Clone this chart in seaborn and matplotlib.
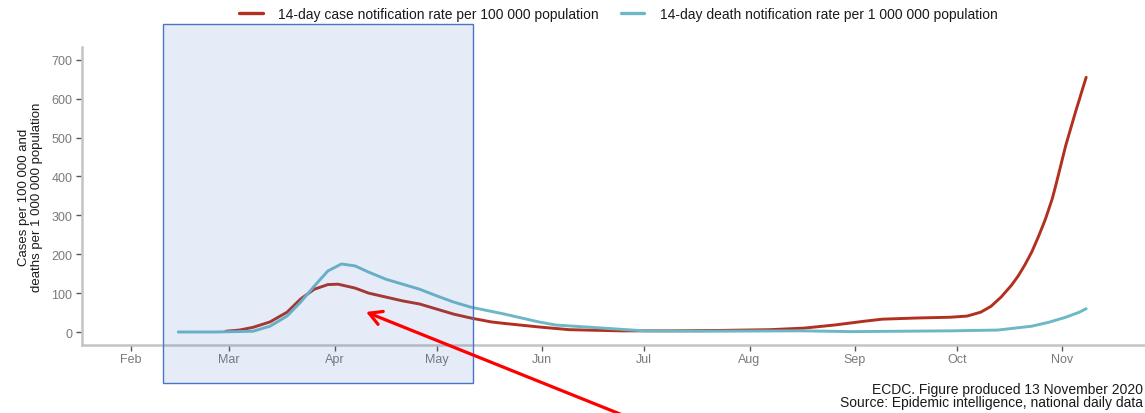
import matplotlib
matplotlib.use("Agg")
import matplotlib.pyplot as plt
import matplotlib.dates as mdates
import matplotlib.patches as mpatches
import pandas as pd
import seaborn as sns

# 14-day case notification rate per 100 000 population
case_dates = [
    "2020-02-29", "2020-03-04", "2020-03-08", "2020-03-13", "2020-03-18",
    "2020-03-22", "2020-03-26", "2020-03-30", "2020-04-02", "2020-04-07",
    "2020-04-11", "2020-04-16", "2020-04-21", "2020-04-26", "2020-05-01",
    "2020-05-06", "2020-05-11", "2020-05-17", "2020-05-21", "2020-05-31",
    "2020-06-09", "2020-06-24", "2020-07-09", "2020-07-23", "2020-08-07",
    "2020-08-17", "2020-08-26", "2020-09-04", "2020-09-09", "2020-09-19",
    "2020-09-29", "2020-10-04", "2020-10-08", "2020-10-11", "2020-10-14",
    "2020-10-17", "2020-10-19", "2020-10-21", "2020-10-23", "2020-10-25",
    "2020-10-27", "2020-10-29", "2020-10-30", "2020-10-31", "2020-11-01",
    "2020-11-02", "2020-11-03", "2020-11-04", "2020-11-05", "2020-11-06",
    "2020-11-07", "2020-11-08",
]
case_values = [
    2, 5, 12, 26, 51,
    85, 110, 122, 123, 113,
    100, 90, 80, 72, 59,
    46, 36, 26, 22, 13,
    6, 3, 3, 4, 6,
    10, 18, 28, 33, 36,
    38, 41, 51, 66, 90,
    120, 144, 173, 206, 246,
    290, 342, 375, 410, 445,
    480, 510, 540, 570, 598,
    627, 655,
]

# 14-day death notification rate per 1 000 000 population
death_dates = [
    "2020-02-15", "2020-02-26", "2020-03-08", "2020-03-13", "2020-03-18",
    "2020-03-22", "2020-03-26", "2020-03-30", "2020-04-03", "2020-04-07",
    "2020-04-11", "2020-04-16", "2020-04-21", "2020-04-26", "2020-05-01",
    "2020-05-06", "2020-05-11", "2020-05-21", "2020-05-31", "2020-06-05",
    "2020-06-19", "2020-07-01", "2020-07-17", "2020-08-16", "2020-08-31",
    "2020-09-29", "2020-10-13", "2020-10-23", "2020-10-28", "2020-11-02",
    "2020-11-06", "2020-11-08",
]
death_values = [
    0, 0, 2, 15, 41,
    77, 118, 157, 175, 170,
    154, 136, 123, 110, 93,
    77, 64, 46, 26, 18,
    10, 3, 2, 3, 1,
    3, 5, 15, 25, 38,
    51, 60,
]

series_labels = [
    "14-day case notification rate per 100 000 population",
    "14-day death notification rate per 1 000 000 population",
]
series_colors = ["#b2301f", "#6db8c7"]
month_ticks = ["2020-02-01", "2020-03-01", "2020-04-01", "2020-05-01", "2020-06-01",
               "2020-07-01", "2020-08-01", "2020-09-01", "2020-10-01", "2020-11-01"]
y_ticks = [0, 100, 200, 300, 400, 500, 600, 700]

df = pd.concat([
    pd.DataFrame({"date": pd.to_datetime(case_dates), "rate": case_values,
                  "series": series_labels[0]}),
    pd.DataFrame({"date": pd.to_datetime(death_dates), "rate": death_values,
                  "series": series_labels[1]}),
], ignore_index=True)

sns.set_theme(style="white")
plt.rcParams["font.family"] = ["Liberation Sans", "DejaVu Sans"]

W, H = 1145, 414
fig = plt.figure(figsize=(W / 100, H / 100), dpi=100)
ax_left, ax_bottom, ax_top = 82, 346, 48
ax = fig.add_axes([ax_left / W, (H - ax_bottom) / H,
                   (W - ax_left) / W, (ax_bottom - ax_top) / H])

sns.lineplot(data=df, x="date", y="rate", hue="series",
             palette=dict(zip(series_labels, series_colors)),
             linewidth=2.1, ax=ax, legend=False)

# date axis: Feb 1 sits 48.7 px right of the spine, 3.40 px per day
feb1 = pd.Timestamp("2020-02-01")
ax.set_xlim(feb1 - pd.Timedelta(days=14.3), feb1 + pd.Timedelta(days=298.3))
ax.set_ylim(-33.4, 733)
ax.set_xticks(pd.to_datetime(month_ticks))
ax.xaxis.set_major_formatter(mdates.DateFormatter("%b"))
ax.set_yticks(y_ticks)

ax.set_xlabel("")
ax.set_ylabel("Cases per 100 000 and\ndeaths per 1 000 000 population",
              fontsize=9.5, color="#1a1a1a", labelpad=6, linespacing=1.1)

for side in ("top", "right"):
    ax.spines[side].set_visible(False)
for side in ("left", "bottom"):
    ax.spines[side].set_color("#c4c4c4")
    ax.spines[side].set_linewidth(1.8)
ax.tick_params(axis="both", which="major", length=4, width=1,
               color="#555555", labelcolor="#7a7a7a", labelsize=9,
               direction="out", bottom=True, left=True)
ax.tick_params(axis="x", pad=2)
ax.tick_params(axis="y", pad=3)

# legend across the top
handles = [plt.Line2D([0], [0], color=c, lw=2.4) for c in series_colors]
fig.legend(handles, series_labels, loc="center", ncol=2,
           bbox_to_anchor=(0.540, 1 - 15 / H), frameon=False,
           fontsize=10, handlelength=1.7, handletextpad=1.1,
           columnspacing=1.6, labelcolor="#1a1a1a")

# highlighted first-wave period
box = dict(xy=(163 / W, (H - 384) / H), width=(473 - 163) / W,
           height=(384 - 25) / H, transform=fig.transFigure)
fig.patches.append(mpatches.Rectangle(**box, facecolor="#4472c4", alpha=0.13,
                                      edgecolor="none", zorder=5))
fig.patches.append(mpatches.Rectangle(**box, facecolor="none",
                                      edgecolor="#4a74c8", linewidth=1.0, zorder=6))

# pointer to the spring peak
fig.add_artist(mpatches.FancyArrowPatch(
    posA=(640 / W, (H - 423) / H), posB=(366 / W, (H - 313) / H),
    transform=fig.transFigure, arrowstyle="->,head_length=9,head_width=5",
    color="#ff0000", linewidth=2.3, zorder=7,
    shrinkA=0, shrinkB=0))

# source note
fig.text(1143 / W, 1 - 390 / H, "ECDC. Figure produced 13 November 2020",
         ha="right", va="center", fontsize=10, color="#1a1a1a")
fig.text(1143 / W, 1 - 403 / H, "Source: Epidemic intelligence, national daily data",
         ha="right", va="center", fontsize=10, color="#1a1a1a")

fig.savefig("out.png", dpi=100)
